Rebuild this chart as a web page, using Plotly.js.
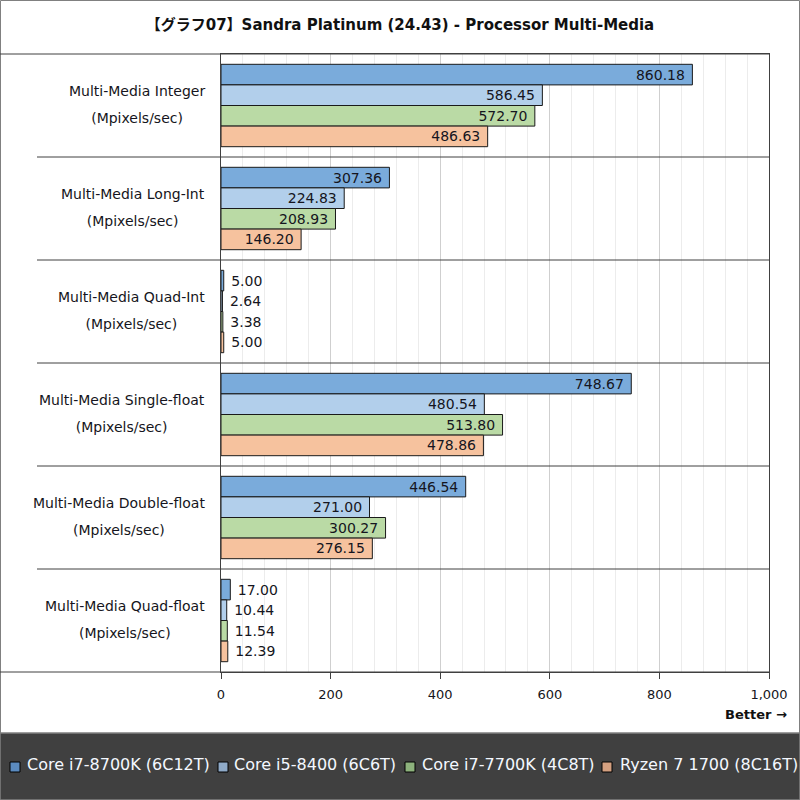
<!DOCTYPE html>
<html>
<head>
<meta charset="utf-8">
<script src="https://cdn.plot.ly/plotly-3.0.1.min.js"></script>
<style>html,body{margin:0;padding:0;background:#fff;}#chart{width:800px;height:800px;}</style>
</head>
<body>
<div id="chart"></div>
<script>
// ---- data ----
const categories = ["Multi-Media Integer", "Multi-Media Long-Int", "Multi-Media Quad-Int", "Multi-Media Single-float", "Multi-Media Double-float", "Multi-Media Quad-float"];
const units = ["(Mpixels/sec)", "(Mpixels/sec)", "(Mpixels/sec)", "(Mpixels/sec)", "(Mpixels/sec)", "(Mpixels/sec)"];
const seriesNames = ["Core i7-8700K (6C12T)", "Core i5-8400 (6C6T)", "Core i7-7700K (4C8T)", "Ryzen 7 1700 (8C16T)"];
const i7_8700K = [860.18, 307.36, 5.00, 748.67, 446.54, 17.00];
const i5_8400 = [586.45, 224.83, 2.64, 480.54, 271.00, 10.44];
const i7_7700K = [572.70, 208.93, 3.38, 513.80, 300.27, 11.54];
const ryzen1700 = [486.63, 146.20, 5.00, 478.86, 276.15, 12.39];
const xTickVals = [0, 200, 400, 600, 800, 1000];
const titleText = "【グラフ07】Sandra Platinum (24.43) - Processor Multi-Media";
const betterText = "Better →";

// ---- styles ----
const barColors = ["#7aabdb", "#b2cfeb", "#badaa5", "#f6c29e"];
const legendColors = ["#5b8bc0", "#8faac8", "#8db27c", "#d4a080"];
const FONT = "DejaVu Sans, Verdana, Noto Sans CJK JP, sans-serif";

const W = 800, H = 800, L = 221, R = 769, T = 54, B = 672;
const px2x = p => (p - L) / (R - L);
const py2y = p => (B - p) / (B - T);

const allSeries = [i7_8700K, i5_8400, i7_7700K, ryzen1700];
const traces = allSeries.map((vals, i) => ({
  type: "bar",
  orientation: "h",
  name: seriesNames[i],
  x: vals,
  y: categories,
  marker: {color: barColors[i], line: {color: "#1a1a1a", width: 1}},
  texttemplate: "\u00a0%{x:.2f}\u00a0",
  textposition: "auto",
  insidetextanchor: "end",
  constraintext: "none",
  textfont: {family: FONT, size: 14, color: "#151520"},
  cliponaxis: false,
  hoverinfo: "skip",
  showlegend: false
}));

const shapes = [];
const annotations = [];

// outer frame
shapes.push({type: "rect", xref: "paper", yref: "paper", x0: px2x(0.5), x1: px2x(799.5), y0: py2y(0.5), y1: py2y(799.5),
  line: {color: "#808080", width: 1}, fillcolor: "rgba(0,0,0,0)", layer: "below"});
// legend box
shapes.push({type: "rect", xref: "paper", yref: "paper", x0: px2x(0), x1: px2x(800), y0: py2y(733), y1: py2y(800),
  line: {color: "#808080", width: 1.5}, fillcolor: "#404040", layer: "above"});
// top & bottom full-width lines
shapes.push({type: "line", xref: "paper", yref: "paper", x0: px2x(0), x1: 1, y0: 1, y1: 1, line: {color: "#404040", width: 1}});
shapes.push({type: "line", xref: "paper", yref: "paper", x0: px2x(0), x1: 1, y0: 0, y1: 0, line: {color: "#404040", width: 1}});
// category separators
categories.forEach((c, k) => {
  if (k < categories.length - 1) {
    shapes.push({type: "line", xref: "paper", yref: "y", x0: px2x(37), x1: 1, y0: k + 0.5, y1: k + 0.5,
      line: {color: "#404040", width: 1}});
  }
  annotations.push({
    xref: "paper", yref: "y", x: 0, y: k, xanchor: "right", yanchor: "middle", xshift: -14, yshift: 1, align: "center",
    text: "<span style=\"font-size:14px\">" + c + "</span><br><span style=\"font-size:14px\">" + units[k] + "</span>",
    showarrow: false, font: {family: FONT, size: 21, color: "#151520"}
  });
});

// legend items
const legSqX = [10, 218, 405, 602];
const legTxtX = [25, 232, 420, 618];
seriesNames.forEach((n, i) => {
  shapes.push({type: "rect", xref: "paper", yref: "paper", x0: px2x(legSqX[i]), x1: px2x(legSqX[i] + 10),
    y0: py2y(772), y1: py2y(762), fillcolor: legendColors[i], line: {color: "#000", width: 1}, layer: "above"});
  annotations.push({xref: "paper", yref: "paper", x: px2x(legTxtX[i]), y: py2y(764), xanchor: "left", yanchor: "middle",
    text: n, showarrow: false, font: {family: FONT, size: 16, color: "#f4f8ff"}});
});

// Better →
annotations.push({xref: "paper", yref: "paper", x: px2x(789), y: py2y(714), xanchor: "right", yanchor: "middle",
  text: "<b>" + betterText + "</b>", showarrow: false, font: {family: FONT, size: 13, color: "#111"}});

const layout = {
  width: W, height: H,
  margin: {l: L, r: W - R, t: T, b: H - B, pad: 0},
  paper_bgcolor: "#fff", plot_bgcolor: "#fff",
  title: {text: "<b>" + titleText + "</b>", x: 0.5, xanchor: "center", xref: "container", y: 1 - 25 / H, yanchor: "middle", yref: "container",
    font: {family: FONT, size: 15, color: "#111"}},
  barmode: "group", bargap: 0.2, bargroupgap: 0,
  showlegend: false,
  xaxis: {
    range: [0, 1000], tickvals: xTickVals, tickformat: ",d",
    showgrid: true, gridcolor: "#cfcfcf", gridwidth: 1,
    minor: {dtick: 40, showgrid: true, gridcolor: "#ececec", gridwidth: 1},
    zeroline: false, showline: true, mirror: true, linecolor: "#404040", linewidth: 1,
    ticks: "outside", ticklen: 6, tickcolor: "#404040", tickwidth: 1,
    tickfont: {family: FONT, size: 13, color: "#151520"}, ticklabelstandoff: 4,
    fixedrange: true
  },
  yaxis: {
    type: "category", range: [categories.length - 0.5, -0.5],
    showticklabels: false, ticks: "", showgrid: false, zeroline: false,
    showline: true, mirror: true, linecolor: "#404040", linewidth: 1, fixedrange: true
  },
  separators: ".,",
  shapes: shapes,
  annotations: annotations
};

Plotly.newPlot("chart", traces, layout, {staticPlot: true, displayModeBar: false});
</script>
</body>
</html>
